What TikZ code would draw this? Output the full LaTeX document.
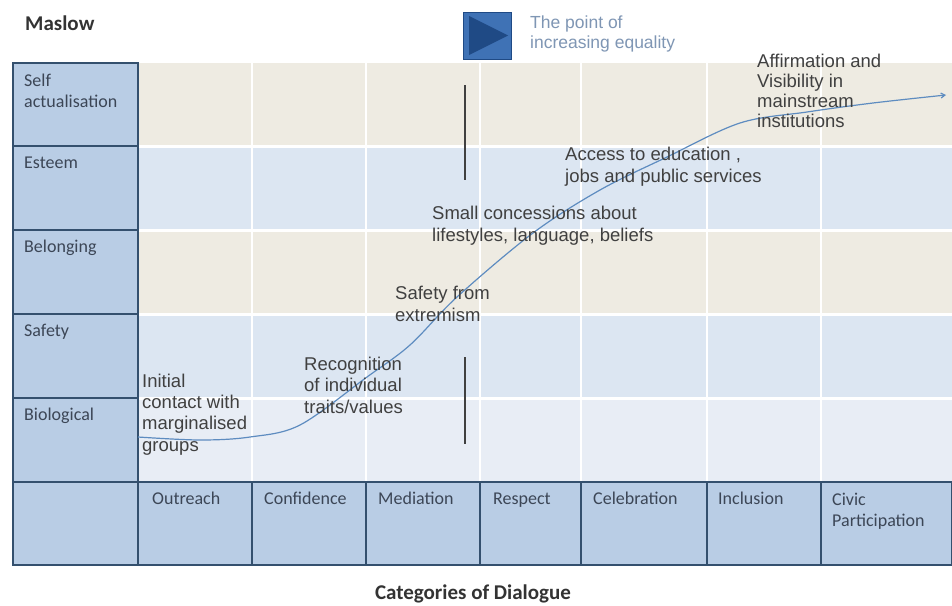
\documentclass[tikz,border=0pt]{standalone}
\usepackage{fontspec}
\setmainfont{Liberation Sans}
\newfontfamily\calfont{Carlito}
\usetikzlibrary{arrows.meta}
\definecolor{beigerow}{HTML}{EEEBE2}
\definecolor{bluerow}{HTML}{DCE6F2}
\definecolor{biorow}{HTML}{E8EDF5}
\definecolor{boxfill}{HTML}{B9CDE5}
\definecolor{boxline}{HTML}{34506E}
\definecolor{labtext}{HTML}{3C4656}
\definecolor{anntext}{HTML}{404040}
\definecolor{curvecol}{HTML}{5E8CC0}
\definecolor{legtext}{HTML}{7F96B4}
\definecolor{legsq}{HTML}{3F72B5}
\definecolor{legtri}{HTML}{1F4A85}
\begin{document}
\begin{tikzpicture}[x=1pt,y=-1pt,
  lbox/.style={draw=boxline, line width=1.6pt, fill=boxfill, anchor=north west, inner sep=0pt, outer sep=0pt},
  rowlab/.style={anchor=base west, inner sep=0pt, text=labtext, font=\calfont\fontsize{18}{21}\selectfont, align=left},
  ann/.style={anchor=base west, inner sep=0pt, text=anntext, font=\fontsize{18.5}{21.3}\selectfont, align=left},
  title/.style={anchor=base west, inner sep=0pt, text=black!80, font=\calfont\bfseries\fontsize{21}{24}\selectfont},
  gridsep/.style={white, line width=3pt},
  colsep/.style={white, line width=2pt},
  marker/.style={draw=black!75, line width=1.6pt},
  curve/.style={draw=curvecol, line width=1.2pt}
]
\useasboundingbox (0,0) rectangle (952,605);
\fill[white] (0,0) rectangle (952,605);

% grid background
\fill[beigerow] (138,63) rectangle (952,146);
\fill[bluerow] (138,146) rectangle (952,230);
\fill[beigerow] (138,230) rectangle (952,314);
\fill[bluerow] (138,314) rectangle (952,398);
\fill[biorow] (138,398) rectangle (952,482);
\foreach \yy in {146,230,314,398} \draw[gridsep] (138,\yy) -- (952,\yy);
\foreach \xx in {252,366,480,581,707,821} \draw[colsep] (\xx,63) -- (\xx,482);

% left column (Maslow levels)
\node[lbox, minimum width=125pt, minimum height=83pt] (r1) at (13,63) {};
\node[lbox, minimum width=125pt, minimum height=84pt] (r2) at (13,146) {};
\node[lbox, minimum width=125pt, minimum height=84pt] (r3) at (13,230) {};
\node[lbox, minimum width=125pt, minimum height=84pt] (r4) at (13,314) {};
\node[lbox, minimum width=125pt, minimum height=84pt] (r5) at (13,398) {};

% bottom row (categories)
\node[lbox, minimum width=125pt, minimum height=83pt] (c0) at (13,482) {};
\node[lbox, minimum width=114pt, minimum height=83pt] (c1) at (138,482) {};
\node[lbox, minimum width=114pt, minimum height=83pt] (c2) at (252,482) {};
\node[lbox, minimum width=114pt, minimum height=83pt] (c3) at (366,482) {};
\node[lbox, minimum width=101pt, minimum height=83pt] (c4) at (480,482) {};
\node[lbox, minimum width=126pt, minimum height=83pt] (c5) at (581,482) {};
\node[lbox, minimum width=114pt, minimum height=83pt] (c6) at (707,482) {};
\node[lbox, minimum width=131pt, minimum height=83pt] (c7) at (821,482) {};

% row labels (base = last line)
\node[rowlab] (l1) at (24,107) {Self\\actualisation};
\node[rowlab] (l2) at (24,168) {Esteem};
\node[rowlab] (l3) at (24,252) {Belonging};
\node[rowlab] (l4) at (24,336) {Safety};
\node[rowlab] (l5) at (24,420) {Biological};

% column labels
\node[rowlab] (k1) at (152,504) {Outreach};
\node[rowlab] (k2) at (264,504) {Confidence};
\node[rowlab] (k3) at (378,504) {Mediation};
\node[rowlab] (k4) at (493,504) {Respect};
\node[rowlab] (k5) at (593,504) {Celebration};
\node[rowlab] (k6) at (718,504) {Inclusion};
\node[rowlab] (k7) at (832,526) {Civic\\Participation};

% titles
\node[title] (maslow) at (25,30) {Maslow};
\node[title, anchor=base] (cats) at (473,599) {Categories of Dialogue};

% legend
\node[draw=legtri, line width=1pt, fill=legsq, anchor=north west, minimum width=48pt, minimum height=47pt, inner sep=0pt] (legend) at (463,12) {};
\fill[legtri] (469,16) -- (508,35.5) -- (469,55) -- cycle;
\node[anchor=base west, inner sep=0pt, text=legtext, font=\fontsize{17.5}{20}\selectfont, align=left] (legtxt) at (530,48) {The point of\\increasing equality};

% vertical markers
\coordinate (m1a) at (465,85);
\coordinate (m1b) at (465,180);
\coordinate (m2a) at (465,357);
\coordinate (m2b) at (465,444);
\draw[marker] (m1a) -- (m1b);
\draw[marker] (m2a) -- (m2b);

% curve
\draw[curve, -{Straight Barb[length=4pt,width=5pt]}] plot[smooth, tension=0.55] coordinates {(138,437) (200,440) (250,437) (300,425) (367,377) (410,345) (457,297) (533,233) (600,190) (667,157) (740,123) (807,112) (873,103) (946,95)};

% annotations (base = last line)
\node[ann] (a1) at (142,451) {Initial\\contact with\\marginalised\\groups};
\node[ann] (a2) at (304,413) {Recognition\\of individual\\traits/values};
\node[ann] (a3) at (395,321) {Safety from\\extremism};
\node[ann] (a4) at (432,241) {Small concessions about\\lifestyles, language, beliefs};
\node[ann] (a5) at (565,182) {Access to education ,\\jobs and public services};
\node[ann, font=\fontsize{18.5}{20}\selectfont] (a6) at (757,127) {Affirmation and\\Visibility in\\mainstream\\institutions};
\end{tikzpicture}
\end{document}
